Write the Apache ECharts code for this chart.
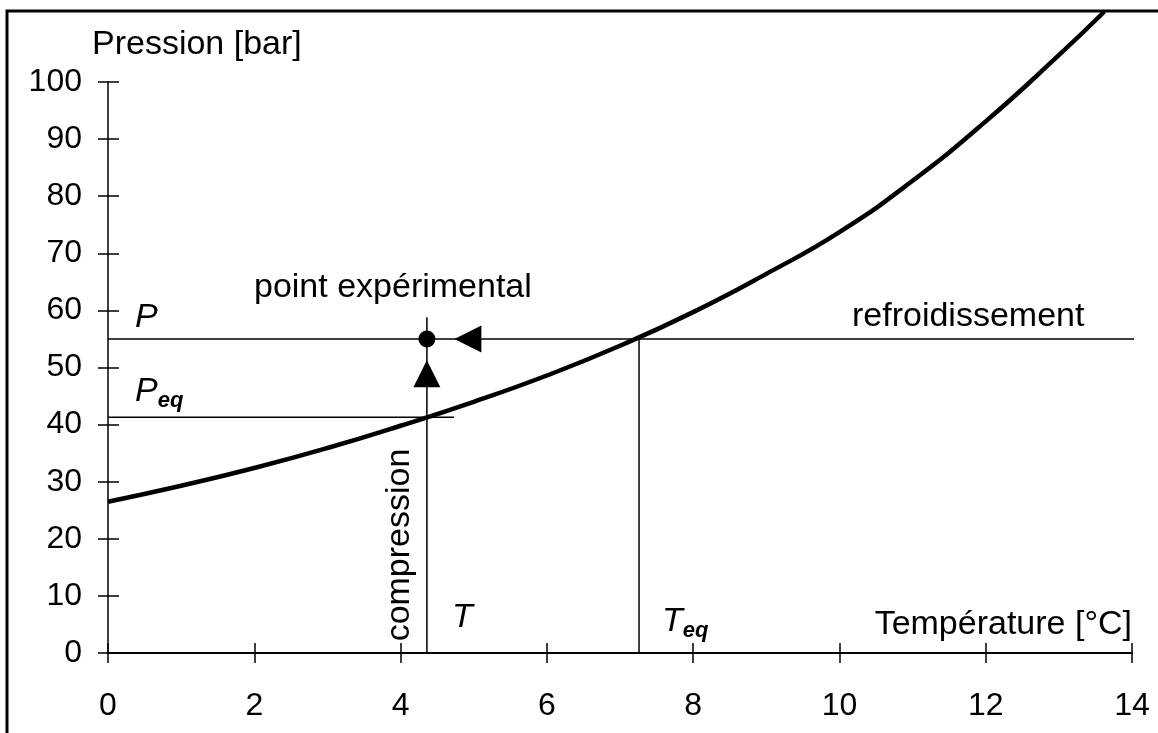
<!DOCTYPE html>
<html>
<head>
<meta charset="utf-8">
<script src="https://cdn.jsdelivr.net/npm/echarts@6/dist/echarts.min.js"></script>
<style>
  html, body { margin: 0; padding: 0; background: #fff; }
  #main { width: 1158px; height: 733px; }
</style>
</head>
<body>
<div id="main"></div>
<script>
var FONT = 'Liberation Sans';

// courbe d'equilibre
var tempC    = [0, 1, 2, 3, 4, 5, 6, 7, 8, 9, 10, 11, 12, 13, 13.62];
var pression = [26.5, 29.3, 32.4, 35.9, 39.8, 44.0, 48.6, 53.8, 59.7, 66.4, 73.7, 82.7, 93.1, 104.7, 112.3];

// point experimental et equilibre
var T = 4.36, P = 55;
var Teq = 7.26, Peq = 41.3;
var arrowLeft = [4.92, 55];
var arrowUp = [4.36, 48.9];

var xTicks = [0, 2, 4, 6, 8, 10, 12, 14];
var yTicks = [0, 10, 20, 30, 40, 50, 60, 70, 80, 90, 100];

var curve = tempC.map(function (t, i) { return [t, pression[i]]; });

var myChart = echarts.init(document.getElementById('main'));

function guide(a, b) {
    return {
        type: 'line',
        data: [a, b],
        symbol: 'none',
        clip: false,
        silent: true,
        lineStyle: { color: '#000', width: 1.5 },
        z: 1
    };
}

function txt(x, y, text, style) {
    var s = {
        text: text,
        x: 0, y: 0,
        fill: '#000',
        font: '34px "' + FONT + '"',
        verticalAlign: 'middle'
    };
    for (var k in style) s[k] = style[k];
    return { type: 'text', x: x, y: y, style: s, z: 10 };
}

var sub = {
    a: { fontSize: 34, fontStyle: 'italic', fontFamily: FONT, color: '#000', verticalAlign: 'bottom', lineHeight: 34 },
    b: { fontSize: 22, fontStyle: 'italic', fontWeight: 'bold', fontFamily: FONT, color: '#000', verticalAlign: 'bottom', lineHeight: 22, padding: [0, 0, -3, 0] }
};

var option = {
    backgroundColor: '#fff',
    animation: false,
    grid: { left: 108, right: 26, top: 82, bottom: 80 },
    xAxis: [{
        type: 'value',
        min: xTicks[0], max: xTicks[xTicks.length - 1], interval: 2,
        axisLine: { lineStyle: { color: '#000', width: 2 } },
        axisTick: { length: 10, lineStyle: { color: '#000', width: 1.5 } },
        axisLabel: { color: '#000', fontSize: 32, fontFamily: FONT, margin: 37 },
        splitLine: { show: false }
    }, {
        type: 'value',
        position: 'bottom',
        min: xTicks[0], max: xTicks[xTicks.length - 1], interval: 2,
        axisLine: { show: false },
        axisTick: { inside: true, length: 10, lineStyle: { color: '#000', width: 1.5 } },
        axisLabel: { show: false },
        splitLine: { show: false }
    }],
    yAxis: [{
        type: 'value',
        min: yTicks[0], max: yTicks[yTicks.length - 1], interval: 10,
        axisLine: { show: true, lineStyle: { color: '#000', width: 1.5 } },
        axisTick: { show: true, length: 10, lineStyle: { color: '#000', width: 1.5 } },
        axisLabel: { color: '#000', fontSize: 32, fontFamily: FONT, margin: 26 },
        splitLine: { show: false }
    }, {
        type: 'value',
        position: 'left',
        offset: 0,
        min: yTicks[0], max: yTicks[yTicks.length - 1], interval: 10,
        axisLine: { show: false },
        axisTick: { show: true, inside: true, length: 11, lineStyle: { color: '#000', width: 1.5 } },
        axisLabel: { show: false },
        splitLine: { show: false }
    }],
    series: [
        {
            type: 'line',
            data: curve,
            smooth: true,
            symbol: 'none',
            clip: false,
            lineStyle: { color: '#000', width: 4.5 },
            z: 3
        },
        guide([0, P], [14.12, P]),
        guide([0, Peq], [4.73, Peq]),
        guide([T, 0], [T, 58.8]),
        guide([Teq, 0], [Teq, P]),
        {
            type: 'scatter',
            data: [[T, P]],
            symbol: 'circle',
            symbolSize: 17,
            itemStyle: { color: '#000', opacity: 1 },
            z: 5
        },
        {
            type: 'scatter',
            data: [
                { value: arrowLeft, symbolRotate: 90 },
                { value: arrowUp, symbolRotate: 0 }
            ],
            symbol: 'triangle',
            symbolSize: 27,
            itemStyle: { color: '#000', opacity: 1 },
            z: 5
        }
    ],
    graphic: [
        {
            type: 'rect',
            shape: { x: 7, y: 11, width: 1300, height: 900 },
            style: { fill: null, stroke: '#000', lineWidth: 3 },
            silent: true
        },
        txt(92, 45, 'Pression [bar]'),
        txt(1132, 625, 'Température [°C]', { align: 'right' }),
        txt(135, 318, 'P', { font: 'italic 34px "' + FONT + '"' }),
        txt(135, 392, '{a|P}{b|eq}', { rich: sub }),
        txt(254, 288, 'point expérimental'),
        txt(852, 317, 'refroidissement'),
        txt(452, 618, 'T', { font: 'italic 34px "' + FONT + '"' }),
        txt(662, 622, '{a|T}{b|eq}', { rich: sub }),
        {
            type: 'text',
            x: 400, y: 545,
            rotation: Math.PI / 2,
            style: {
                text: 'compression',
                fill: '#000',
                font: '34px "' + FONT + '"',
                align: 'center',
                verticalAlign: 'middle'
            },
            z: 10
        }
    ]
};

myChart.setOption(option);
</script>
</body>
</html>
